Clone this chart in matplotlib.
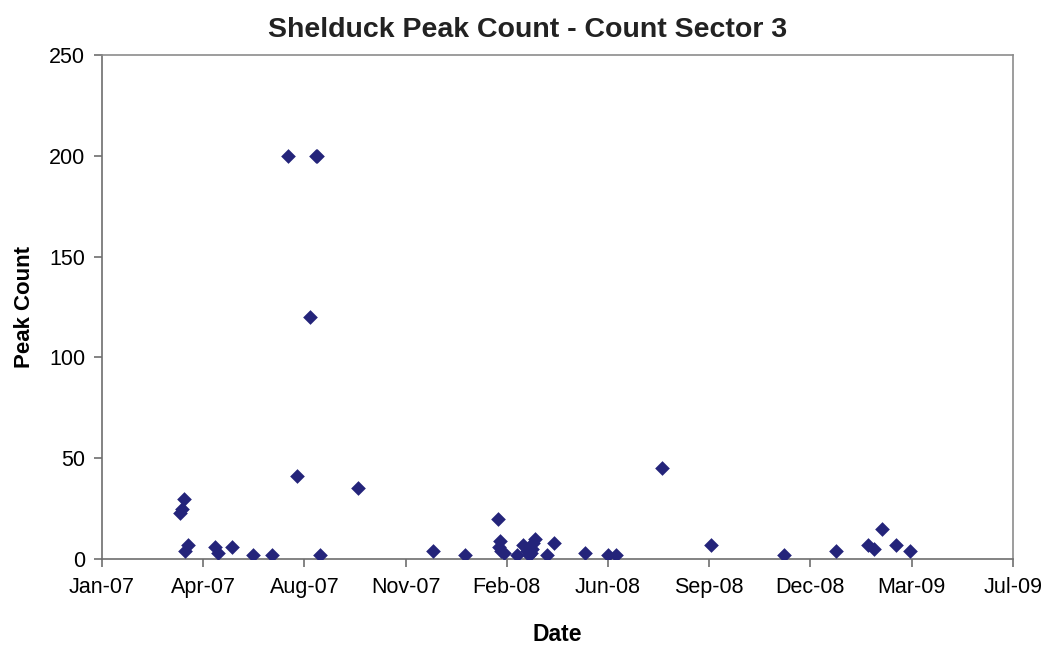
import datetime as dt
import matplotlib
matplotlib.use("Agg")
import matplotlib.pyplot as plt
import matplotlib.dates as mdates

plt.rcParams['font.family'] = ['Liberation Sans', 'DejaVu Sans']

# survey dates and peak counts
dates = [
    "2007-04-05", "2007-04-07", "2007-04-09", "2007-04-10", "2007-04-13",
    "2007-05-10", "2007-05-13", "2007-05-26", "2007-06-16", "2007-07-05",
    "2007-07-21", "2007-07-30", "2007-08-12", "2007-08-17", "2007-08-18",
    "2007-08-21", "2007-09-28", "2007-12-11", "2008-01-12", "2008-02-13",
    "2008-02-14", "2008-02-15", "2008-02-16", "2008-02-19", "2008-03-03",
    "2008-03-09", "2008-03-13", "2008-03-15", "2008-03-17", "2008-03-18",
    "2008-03-19", "2008-03-21", "2008-04-02", "2008-04-09", "2008-05-09",
    "2008-06-01", "2008-06-09", "2008-07-24", "2008-09-11", "2008-11-22",
    "2009-01-12", "2009-02-13", "2009-02-19", "2009-02-27", "2009-03-13",
    "2009-03-26",
]
counts = [
    23, 25, 30, 4, 7,
    6, 3, 6, 2, 2,
    200, 41, 120, 200, 200,
    2, 35, 4, 2, 20,
    6, 9, 4, 3, 2,
    7, 4, 2, 3, 5,
    8, 10, 2, 8, 3,
    2, 2, 45, 7, 2,
    4, 7, 5, 15, 7,
    4,
]

x_start = dt.date(2007, 1, 18)
x_end = dt.date(2009, 7, 6)
tick_step_days = 100

x = [dt.datetime.strptime(d, "%Y-%m-%d") for d in dates]

fig = plt.figure(figsize=(10.55, 6.45), dpi=100)
ax = fig.add_axes([0.0967, 0.1333, 0.8633, 0.7814])

ax.scatter(x, counts, marker='D', s=56, color='#24247A', zorder=3, linewidths=0)

ticks = [x_start + dt.timedelta(days=tick_step_days * i) for i in range(10)]
ax.set_xticks(ticks)
ax.xaxis.set_major_formatter(mdates.DateFormatter('%b-%y'))
ax.set_xlim(x_start, x_end)
ax.set_ylim(0, 250)
ax.set_yticks(range(0, 251, 50))

for side in ['top', 'right']:
    ax.spines[side].set_color('#8c8c8c')
for side in ['left', 'bottom']:
    ax.spines[side].set_color('#6e6e6e')
for sp in ax.spines.values():
    sp.set_linewidth(1.2)

ax.tick_params(axis='both', direction='out', length=6, width=1.2,
               color='#6e6e6e', labelsize=15.5, pad=6)
ax.tick_params(axis='x', pad=7)

# title is centred on the whole figure, not on the plot area
fig.text(0.5, 0.953, 'Shelduck Peak Count - Count Sector 3', fontsize=20.5,
         fontweight='bold', color='#222222', ha='center', va='center')
ax.set_xlabel('Date', fontsize=16.5, fontweight='bold', labelpad=18)
ax.set_ylabel('Peak Count', fontsize=16, fontweight='bold', labelpad=10)

fig.savefig('out.png', dpi=100)
